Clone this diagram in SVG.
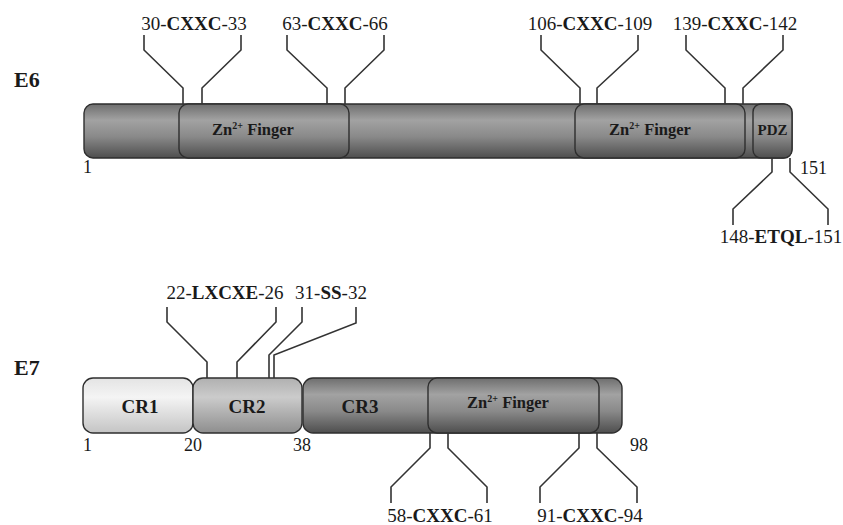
<svg xmlns="http://www.w3.org/2000/svg" width="843" height="525" viewBox="0 0 843 525">
<defs>
<linearGradient id="gDark" x1="0" y1="0" x2="0" y2="1">
<stop offset="0" stop-color="#6e6e6e"/>
<stop offset="0.3" stop-color="#a2a2a2"/>
<stop offset="0.6" stop-color="#8a8a8a"/>
<stop offset="1" stop-color="#4e4e4e"/>
</linearGradient>
<linearGradient id="gCR1" x1="0" y1="0" x2="0" y2="1">
<stop offset="0" stop-color="#e4e4e4"/>
<stop offset="0.35" stop-color="#f4f4f4"/>
<stop offset="1" stop-color="#c4c4c4"/>
</linearGradient>
<linearGradient id="gCR2" x1="0" y1="0" x2="0" y2="1">
<stop offset="0" stop-color="#b0b0b0"/>
<stop offset="0.35" stop-color="#cbcbcb"/>
<stop offset="1" stop-color="#8e8e8e"/>
</linearGradient>
<style>
.box{stroke:#2e2e2e;stroke-width:1.4}
.ln{fill:none;stroke:#333;stroke-width:1.6}
.t{font-family:"Liberation Serif","Times New Roman","DejaVu Serif",serif;fill:#1a1a1a}
.lab{font-size:19px;text-anchor:middle}
.num{font-size:18px}
.b{font-weight:bold}
.dom{font-size:16.5px;font-weight:bold;text-anchor:middle}
.cr{font-size:19px;font-weight:bold;text-anchor:middle}
.big{font-size:22px;font-weight:bold}
</style>
</defs>

<g id="E6">
<text class="t big" x="14" y="87">E6</text>
<rect class="box" x="84" y="104" width="708" height="54" rx="9" fill="url(#gDark)"/>
<text class="t num" x="83" y="173">1</text>
<text class="t num" x="800" y="174">151</text>
</g>
<g id="E6-zn1">
<rect class="box" x="179" y="104" width="170" height="54" rx="9" fill="url(#gDark)"/>
<text class="t dom" x="253" y="135">Zn<tspan font-size="10" dy="-6">2+</tspan><tspan dy="6"> Finger</tspan></text>
</g>
<g id="E6-zn2">
<rect class="box" x="575" y="104" width="170" height="54" rx="9" fill="url(#gDark)"/>
<text class="t dom" x="650" y="135">Zn<tspan font-size="10" dy="-6">2+</tspan><tspan dy="6"> Finger</tspan></text>
</g>
<g id="E6-pdz">
<rect class="box" x="753" y="104" width="39" height="54" rx="8" fill="url(#gDark)"/>
<text class="t" x="772.5" y="135" font-size="15" font-weight="bold" text-anchor="middle">PDZ</text>
</g>

<g id="E7">
<text class="t big" x="14" y="375">E7</text>
<text class="t num" x="83" y="451">1</text>
<text class="t num" x="184" y="451">20</text>
<text class="t num" x="293" y="451">38</text>
<text class="t num" x="630" y="451">98</text>
</g>
<g id="E7-cr1">
<rect class="box" x="83" y="378" width="110" height="55" rx="10" fill="url(#gCR1)"/>
<text class="t cr" x="140" y="413">CR1</text>
</g>
<g id="E7-cr2">
<rect class="box" x="193" y="378" width="109" height="55" rx="10" fill="url(#gCR2)"/>
<text class="t cr" x="247" y="413">CR2</text>
</g>
<g id="E7-cr3">
<rect class="box" x="303" y="378" width="319" height="55" rx="10" fill="url(#gDark)"/>
<text class="t cr" x="360" y="413">CR3</text>
</g>
<g id="E7-zn">
<rect class="box" x="428" y="378" width="171" height="55" rx="9" fill="url(#gDark)"/>
<text class="t dom" x="508" y="408">Zn<tspan font-size="10" dy="-6">2+</tspan><tspan dy="6"> Finger</tspan></text>
</g>

<g id="connectors">
<path class="ln" d="M144,35 V50 L183,88 V104 M241,35 V50 L202,88 V104"/>
<path class="ln" d="M287,35 V50 L327,88 V104 M384,35 V50 L345,88 V104"/>
<path class="ln" d="M541,35 V50 L580,88 V104 M638,35 V50 L597,88 V104"/>
<path class="ln" d="M686,35 V50 L725,88 V104 M783,35 V50 L743,88 V104"/>
<path class="ln" d="M772,158 V172 L733,209 V225 M790,158 V172 L828,209 V225"/>
<path class="ln" d="M167,307 V322 L207,362 V378 M276,307 V322 L237,362 V378"/>
<path class="ln" d="M302,307 V322 L269,355 V378 M356,307 V323 L274,355 V378"/>
<path class="ln" d="M430,433 V448 L391,487 V503 M448,433 V448 L487,487 V503"/>
<path class="ln" d="M579,433 V448 L540,487 V503 M597,433 V448 L637,487 V503"/>
</g>

<g id="labels">
<text class="t lab" x="194" y="30">30-<tspan class="b">CXXC</tspan>-33</text>
<text class="t lab" x="335" y="30">63-<tspan class="b">CXXC</tspan>-66</text>
<text class="t lab" x="590" y="30">106-<tspan class="b">CXXC</tspan>-109</text>
<text class="t lab" x="735" y="30">139-<tspan class="b">CXXC</tspan>-142</text>
<text class="t lab" x="781" y="243">148-<tspan class="b">ETQL</tspan>-151</text>
<text class="t lab" x="225" y="299">22-<tspan class="b">LXCXE</tspan>-26</text>
<text class="t lab" x="331" y="299">31-<tspan class="b">SS</tspan>-32</text>
<text class="t lab" x="440" y="522">58-<tspan class="b">CXXC</tspan>-61</text>
<text class="t lab" x="590" y="522">91-<tspan class="b">CXXC</tspan>-94</text>
</g>
</svg>
